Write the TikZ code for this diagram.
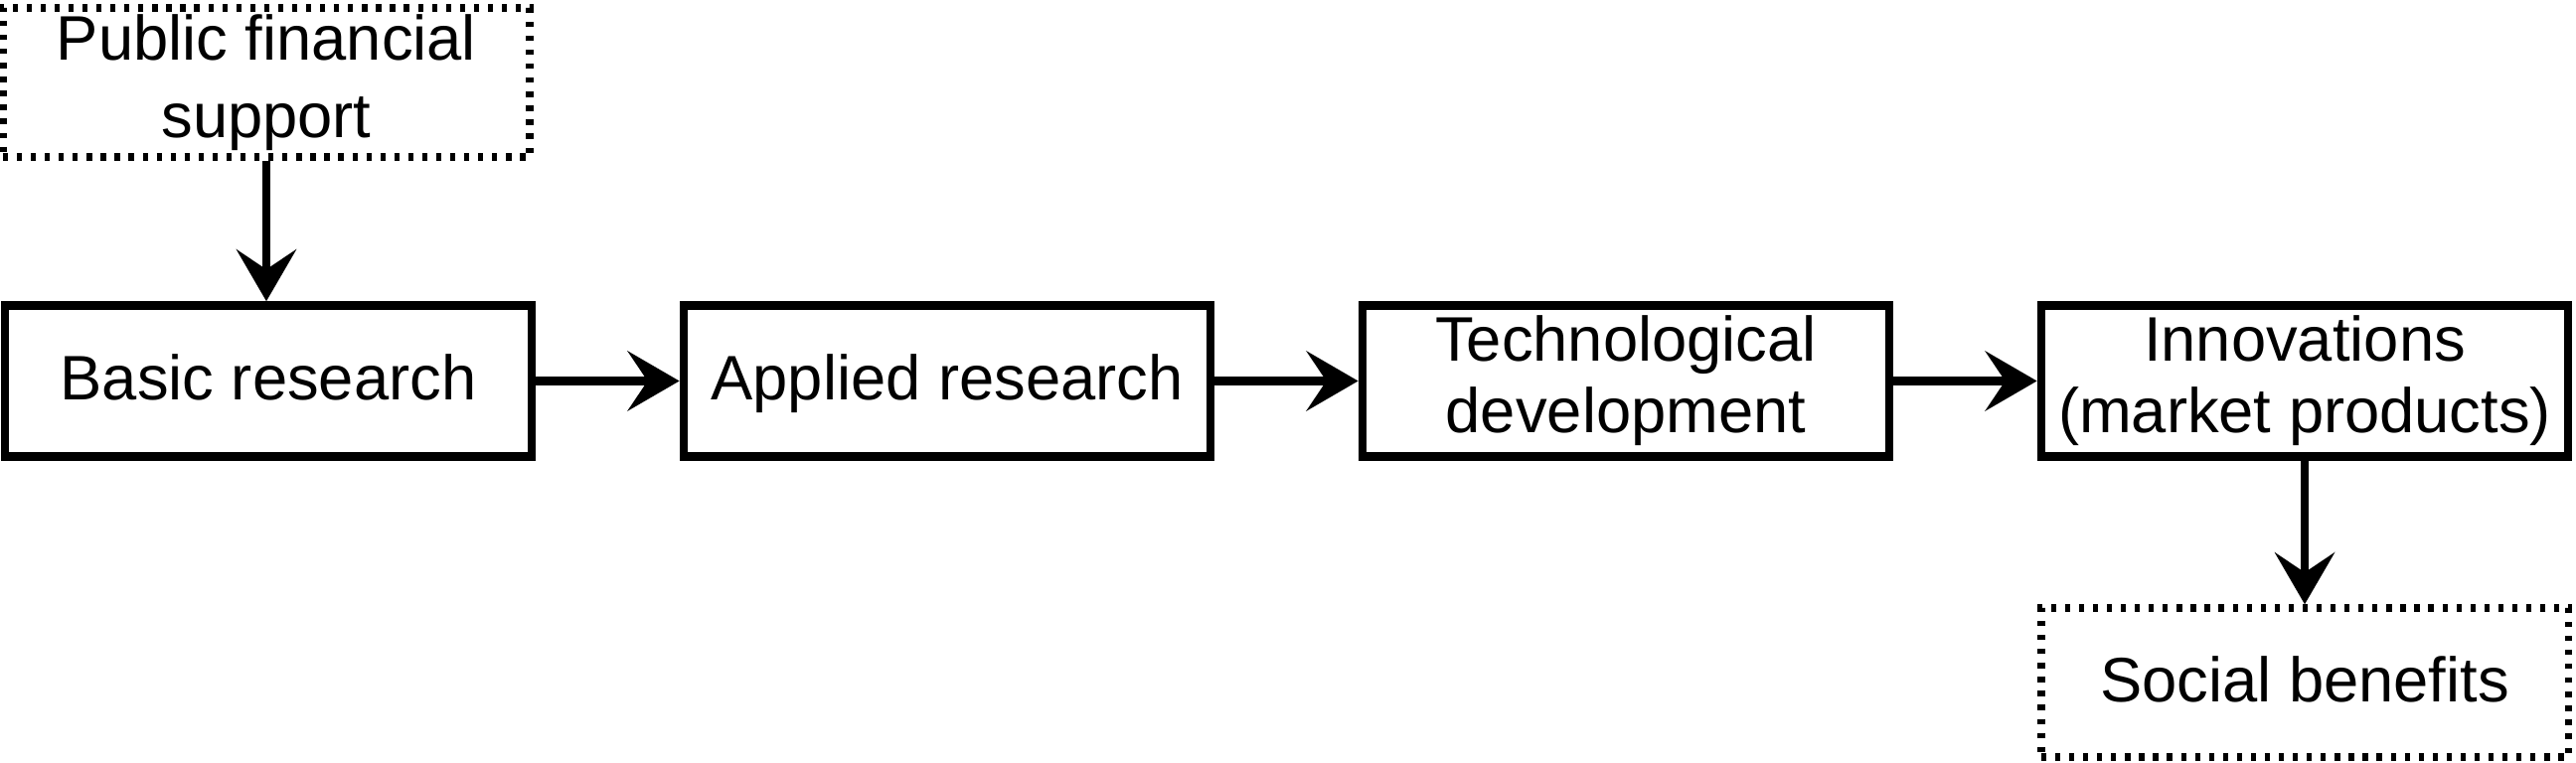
\documentclass[tikz,border=0pt]{standalone}
\usepackage{fontspec}
\setmainfont{Liberation Sans}
\usetikzlibrary{arrows.meta}
\begin{document}
\begin{tikzpicture}[x=0.01cm,y=-0.01cm,
  base/.style={draw=black,line width=2.4pt,fill=white,minimum width=5.3cm,minimum height=1.52cm,
    inner sep=0pt,font=\fontsize{18}{20.5}\selectfont},
  box/.style={base,align=center},
  onebox/.style={base,text height=13pt,text depth=2pt},
  dotbox/.style={line width=2.1pt,dash pattern=on 1.5pt off 2.5pt,minimum height=1.5cm},
  flow/.style={line width=2.3pt,-{Stealth[length=0.52cm,width=0.6cm,inset=0.2cm]}}]
\useasboundingbox (0,0) rectangle (2592,768);
\node[box,dotbox,font=\fontsize{18}{22}\selectfont] (pub) at (268,83) {Public financial\\support};
\node[onebox] (basic) at (270,383.5) {Basic research};
\node[onebox] (appl) at (953,383.5) {Applied research};
\node[box] (tech) at (1636,383.5) {Technological\\development};
\node[box] (innov) at (2319,383.5) {Innovations\\(market products)};
\node[onebox,dotbox] (soc) at (2319,687) {Social benefits};
\draw[flow] (pub.south) -- (pub.south |- basic.north);
\draw[flow] (basic.east) -- (appl.west);
\draw[flow] (appl.east) -- (tech.west);
\draw[flow] (tech.east) -- (innov.west);
\draw[flow] (innov.south) -- (soc.north);
\end{tikzpicture}
\end{document}
